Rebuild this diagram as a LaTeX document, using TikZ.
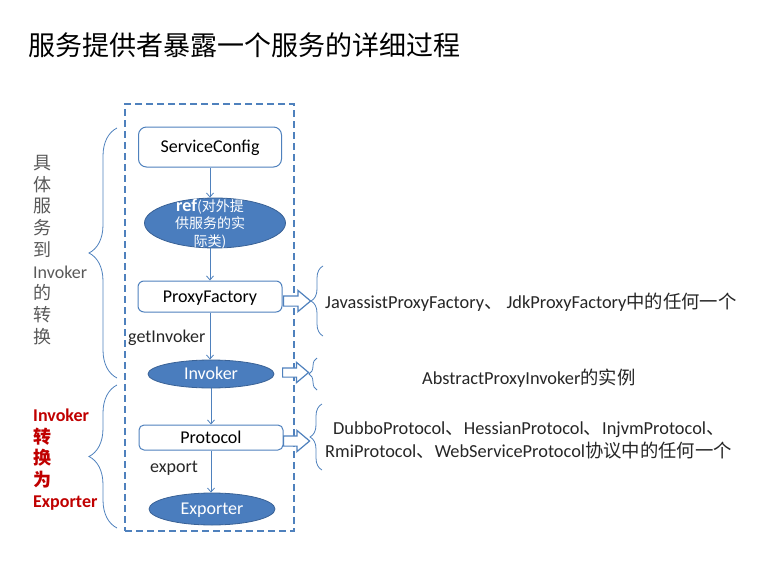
\documentclass[tikz,border=0pt]{standalone}
\usepackage{fontspec}
\setmainfont{Carlito}
\newfontfamily\cjk{Noto Sans CJK SC}
\usetikzlibrary{shapes.geometric,shapes.arrows,decorations.pathreplacing,arrows.meta}
\definecolor{boxblue}{HTML}{4F81BD}
\definecolor{ellfill}{HTML}{4A7DBE}
\definecolor{elldraw}{HTML}{3A6296}
\definecolor{txtgray}{HTML}{595959}
\definecolor{txtdark}{HTML}{262626}
\definecolor{darkred}{HTML}{C00000}
\newcommand{\zh}[1]{{\cjk #1}}
\begin{document}
\begin{tikzpicture}[x=1pt,y=-1pt,
  every node/.style={inner sep=0pt},
  stepbox/.style={draw=boxblue, line width=1pt, fill=white, rounded corners=6pt, text=black, font=\fontsize{18}{20}\selectfont, text height=12pt, text depth=0.5pt},
  ellnode/.style={ellipse, draw=elldraw, line width=0.8pt, fill=ellfill, text=white, font=\fontsize{18}{20}\selectfont, text height=12pt, text depth=0.5pt},
  flow/.style={draw=boxblue, line width=0.8pt, -{Straight Barb[length=4pt,width=7pt]}},
  hollow/.style={single arrow, draw=boxblue, line width=1.2pt, fill=white, inner sep=4.5pt, single arrow head extend=5.5pt, single arrow tip angle=80, anchor=tail},
  bracestyle/.style={draw=boxblue, line width=0.8pt, decorate, decoration={brace, amplitude=#1}},
  plain/.style={text=txtdark, font=\fontsize{18}{20}\selectfont},
  rtext/.style={text=txtdark, font=\fontsize{18.35}{20}\selectfont},
]
\useasboundingbox (0,0) rectangle (782,565);

% title
\node[anchor=west, font=\cjk\fontsize{27}{30}\selectfont, text=black] (title) at (28,45) {服务提供者暴露一个服务的详细过程};

% dashed frame
\node[draw=boxblue, line width=1.6pt, dash pattern=on 7pt off 4pt, minimum width=169pt, minimum height=427pt] (frame) at (209.5,317.5) {};

% main flow
\node[stepbox, rounded corners=8pt, minimum width=143pt, minimum height=40pt] (sc) at (210,147) {ServiceConfig};
\node[ellnode, minimum width=141pt, minimum height=50pt] (ref) at (215,223) {};
\node[align=center, text=white, font=\cjk\fontsize{14}{17.5}\selectfont] (reftxt) at (210,224) {{\normalfont\fontsize{18}{17}\selectfont\bfseries ref}(对外提\\供服务的实\\际类)};
\node[stepbox, minimum width=144pt, minimum height=31pt] (pf) at (210,296.5) {ProxyFactory};
\node[ellnode, minimum width=126pt, minimum height=28pt] (inv) at (211,374) {Invoker};
\node[stepbox, rounded corners=5pt, minimum width=144pt, minimum height=25pt] (proto) at (211,437.5) {Protocol};
\node[ellnode, minimum width=126pt, minimum height=32pt] (exp) at (212,509) {Exporter};

\draw[flow] (sc.south) -- (sc.south |- ref.north);
\draw[flow] (ref.south -| sc.south) -- (sc.south |- pf.north);
\draw[flow] (pf.south) -- (pf.south |- inv.north);
\draw[flow] (inv.south) -- (inv.south |- proto.north);
\draw[flow] (proto.south) -- (proto.south |- exp.north);

\node[plain, anchor=west] (getinv) at (128,338) {getInvoker};
\node[plain, anchor=west] (export) at (150,468) {export};

% left braces and texts
\draw[bracestyle=28pt] (117,378) -- (117,128);
\draw[bracestyle=28pt] (117,528) -- (117,385);
\node[anchor=west, align=left, text=txtgray, font=\fontsize{18}{21.75}\selectfont] (lt1) at (33,250)
  {\zh{具}\\\zh{体}\\\zh{服}\\\zh{务}\\\zh{到}\\Invoker\\\zh{的}\\\zh{转}\\\zh{换}};
\node[anchor=west, align=left, text=darkred, font=\fontsize{18}{21.5}\selectfont\bfseries] (lt2) at (33,460)
  {Invoker\\\zh{转}\\\zh{换}\\\zh{为}\\Exporter};

% hollow arrows
\node[hollow, minimum height=27pt] (a1) at (283,301) {};
\node[hollow, minimum height=26pt, inner sep=4pt, single arrow head extend=5.5pt] (a2) at (282,372.5) {};
\node[hollow, minimum height=26pt] (a3) at (283,441) {};

% right braces
\draw[bracestyle=12pt] (323,336) -- (323,266);
\draw[bracestyle=8pt] (317,390) -- (317,358);
\draw[bracestyle=12pt] (322,470) -- (322,404);

% right texts
\node[rtext, anchor=west] (t1) at (325,302) {JavassistProxyFactory\zh{、} JdkProxyFactory\zh{中的任何一个}};
\node[rtext, anchor=west] (t2) at (422,378) {AbstractProxyInvoker\zh{的实例}};
\node[rtext, anchor=west] (t3a) at (333,430) {DubboProtocol\zh{、}HessianProtocol\zh{、}InjvmProtocol\zh{、}};
\node[rtext, anchor=west] (t3b) at (325,451) {RmiProtocol\zh{、}WebServiceProtocol\zh{协议中的任何一个}};
\end{tikzpicture}
\end{document}
